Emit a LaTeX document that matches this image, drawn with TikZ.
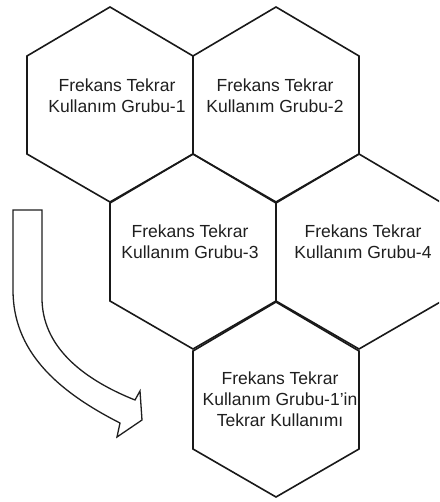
\documentclass[tikz,border=0pt]{standalone}
\usepackage{fontspec}
\setmainfont{Liberation Sans}
\begin{document}
\begin{tikzpicture}[x=1pt,y=-1pt,
  hexline/.style={draw=black!90,line width=1.6pt,line join=miter},
  celltext/.style={align=center,text=black!88,inner sep=0pt,
    font=\fontsize{17.5}{21}\selectfont},
  arrowline/.style={draw=black!88,line width=1.3pt,line join=miter,fill=white}]
\useasboundingbox (0,0) rectangle (439,502);
\clip (0,0) rectangle (439,502);
\fill[white] (0,0) rectangle (439,502);

% honeycomb cells: centre x / centre y
\foreach \cx/\cy in {110/104, 276/104, 193/251, 359/251, 276/399}{
  \draw[hexline] (\cx,\cy) ++(0,-97) -- ++(83,49) -- ++(0,98) -- ++(-83,48)
    -- ++(-83,-48) -- ++(0,-98) -- cycle;
}

% cell captions
\node[celltext] (t1) at (117,96) {Frekans Tekrar\\Kullanım Grubu-1};
\node[celltext] (t2) at (275,96) {Frekans Tekrar\\Kullanım Grubu-2};
\node[celltext] (t3) at (190,242) {Frekans Tekrar\\Kullanım Grubu-3};
\node[celltext] (t4) at (363,242) {Frekans Tekrar\\Kullanım Grubu-4};
\node[celltext] (t5) at (280,399) {Frekans Tekrar\\Kullanım Grubu-1'in\\Tekrar Kullanımı};

% curved block arrow (reuse of group 1)
\draw[arrowline] (13,210) -- (42,210) -- (42,298)
  .. controls (42,345) and (80,378) .. (135,400)
  -- (140,391) -- (142,420) -- (117,437) -- (120,423)
  .. controls (55,390) and (13,350) .. (13,290) -- cycle;
\end{tikzpicture}
\end{document}
